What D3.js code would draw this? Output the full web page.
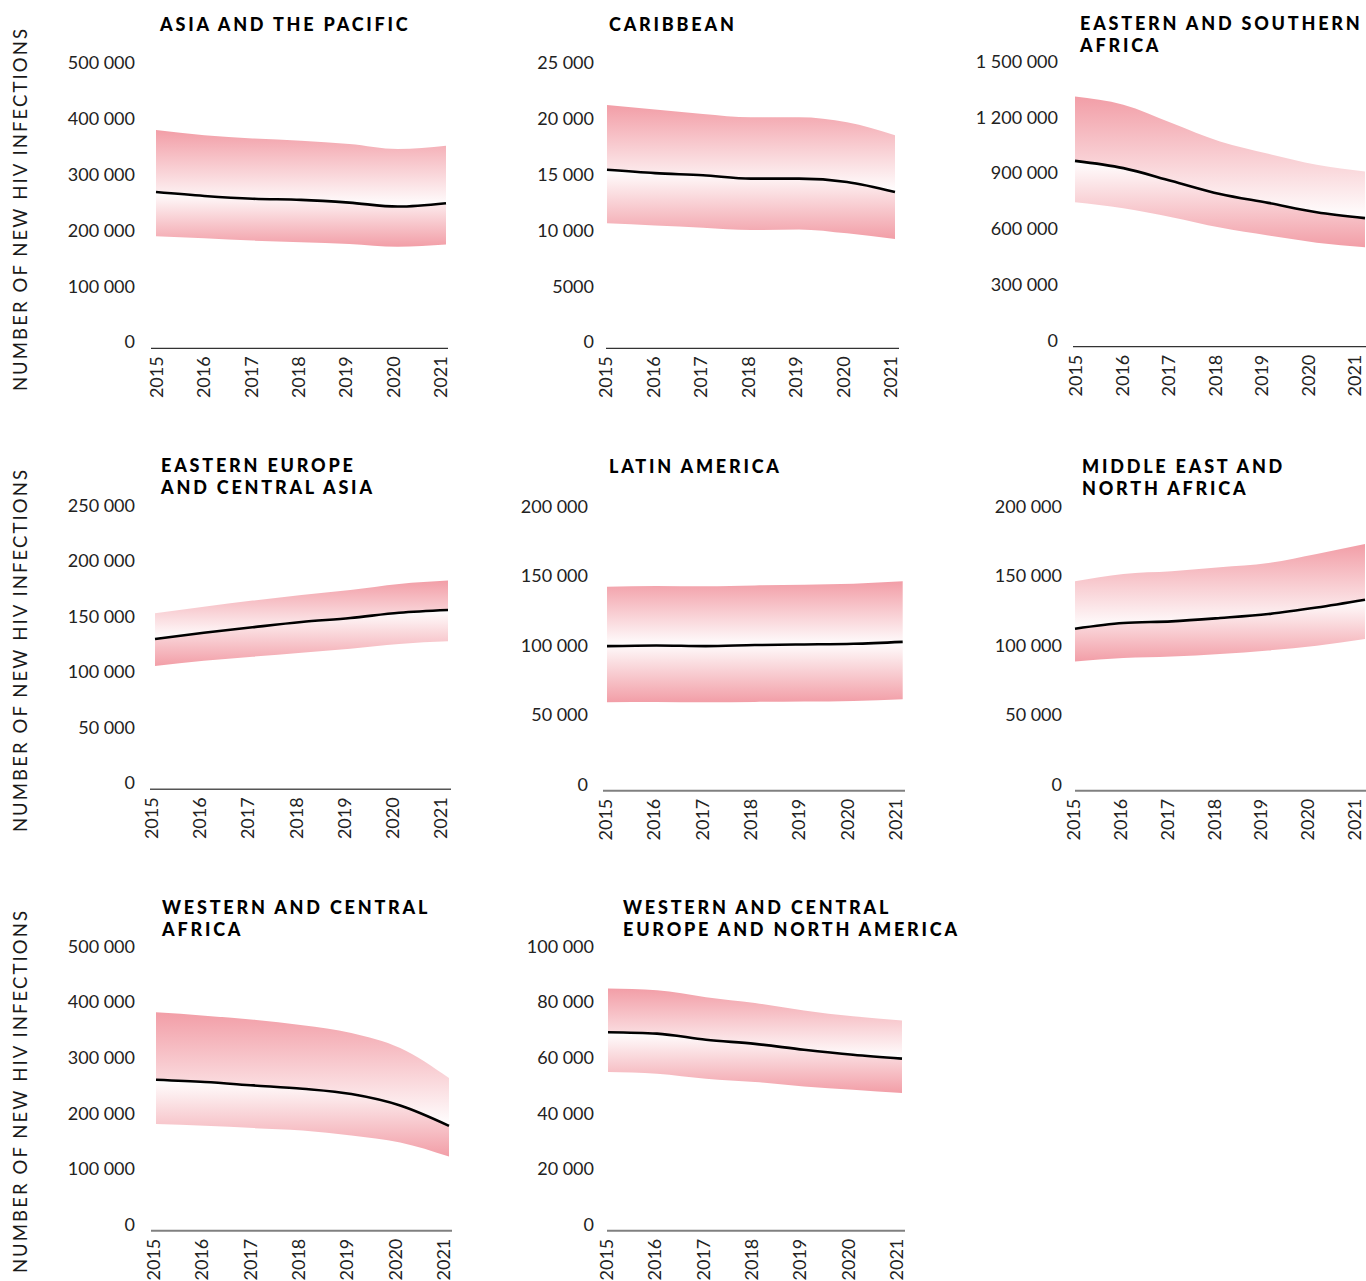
<!DOCTYPE html>
<html><head><meta charset="utf-8">
<script src="https://cdn.jsdelivr.net/npm/d3@7"></script>
<style>body{margin:0;background:#fff;overflow:hidden} svg{display:block}</style>
</head><body><svg id="c" width="1366" height="1281"></svg>
<script>
// ---------- DATA ----------
const years = [2015, 2016, 2017, 2018, 2019, 2020, 2021];
const yAxisTitle = "NUMBER OF NEW HIV INFECTIONS";

const regionTitles = [
  ["ASIA AND THE PACIFIC"],
  ["CARIBBEAN"],
  ["EASTERN AND SOUTHERN", "AFRICA"],
  ["EASTERN EUROPE", "AND CENTRAL ASIA"],
  ["LATIN AMERICA"],
  ["MIDDLE EAST AND", "NORTH AFRICA"],
  ["WESTERN AND CENTRAL", "AFRICA"],
  ["WESTERN AND CENTRAL", "EUROPE AND NORTH AMERICA"]
];

const asiaUpper  = [391000, 382000, 376000, 372000, 366000, 357000, 363000];
const asiaMedian = [280000, 273000, 268000, 266000, 261000, 254000, 260000];
const asiaLower  = [201000, 197000, 193000, 190000, 187000, 182000, 186000];
const asiaTicks  = [0, 100000, 200000, 300000, 400000, 500000];

const caribUpper  = [21800, 21400, 21000, 20700, 20700, 20250, 19100];
const caribMedian = [16000, 15700, 15500, 15200, 15200, 14900, 14000];
const caribLower  = [11200, 11000, 10800, 10600, 10650, 10300, 9800];
const caribTicks  = [0, 5000, 10000, 15000, 20000, 25000];

const esaUpper  = [1346000, 1302000, 1204000, 1104000, 1038000, 979000, 943000];
const esaMedian = [1000000, 961000, 892000, 822000, 774000, 724000, 692000];
const esaLower  = [778000, 745000, 697000, 641000, 598000, 560000, 535000];
const esaTicks  = [0, 300000, 600000, 900000, 1200000, 1500000];

const eecaUpper  = [158600, 164500, 170000, 175000, 179500, 185000, 188000];
const eecaMedian = [135400, 141000, 146000, 150700, 154300, 159000, 161500];
const eecaLower  = [111000, 115900, 119500, 123000, 126700, 131000, 133300];
const eecaTicks  = [0, 50000, 100000, 150000, 200000, 250000];

const latamUpper  = [146800, 147300, 147000, 147700, 148200, 148900, 150600];
const latamMedian = [104000, 104500, 104000, 104800, 105200, 105700, 107100];
const latamLower  = [63700, 63900, 63700, 63900, 64100, 64600, 65800];
const latamTicks  = [0, 50000, 100000, 150000, 200000];

const menaUpper  = [150600, 155900, 157800, 160700, 163800, 170300, 177500];
const menaMedian = [116500, 120600, 121800, 124200, 127100, 131800, 137400];
const menaLower  = [92900, 95400, 96500, 98300, 100900, 104300, 109100];
const menaTicks  = [0, 50000, 100000, 150000, 200000];

const wcaUpper  = [392800, 386800, 379600, 369400, 355700, 328600, 274600];
const wcaMedian = [271500, 267400, 261300, 255300, 245800, 225200, 188600];
const wcaLower  = [191700, 188600, 184500, 180200, 171200, 158600, 133300];
const wcaTicks  = [0, 100000, 200000, 300000, 400000, 500000];

const wcenaUpper  = [87100, 86500, 84000, 81900, 79200, 77100, 75600];
const wcenaMedian = [71400, 70900, 68700, 67200, 65100, 63300, 61900];
const wcenaLower  = [57100, 56500, 54700, 53500, 51900, 50700, 49500];
const wcenaTicks  = [0, 20000, 40000, 60000, 80000, 100000];

const seriesUpper  = [asiaUpper, caribUpper, esaUpper, eecaUpper, latamUpper, menaUpper, wcaUpper, wcenaUpper];
const seriesMedian = [asiaMedian, caribMedian, esaMedian, eecaMedian, latamMedian, menaMedian, wcaMedian, wcenaMedian];
const seriesLower  = [asiaLower, caribLower, esaLower, eecaLower, latamLower, menaLower, wcaLower, wcenaLower];
const seriesTicks  = [asiaTicks, caribTicks, esaTicks, eecaTicks, latamTicks, menaTicks, wcaTicks, wcenaTicks];

// ---------- LAYOUT ----------
const layout = [
  {x:[156,446],  ax:[151,448],  zero:348.3, top:69.3,  lab:135,  labX:[163,447],  tx:160,  ty:30.7,  axC:"#333", axW:1.2},
  {x:[607,895],  ax:[606,899],  zero:348.3, top:69.3,  lab:594,  labX:[612,897],  tx:609,  ty:30.7,  axC:"#333", axW:1.2},
  {x:[1075,1365],ax:[1073,1366],zero:346.7, top:68.0,  lab:1058, labX:[1082,1361], tx:1080, ty:30.0,  axC:"#333", axW:1.2},
  {x:[155,448],  ax:[150,451],  zero:789.3, top:511.8, lab:135,  labX:[158,447],  tx:161,  ty:472.3, axC:"#555", axW:1.6},
  {x:[607,902.7],ax:[603,905],  zero:790.7, top:512.7, lab:588,  labX:[612,902],  tx:609,  ty:473.3, axC:"#808080", axW:2},
  {x:[1075,1365],ax:[1075,1366],zero:790.7, top:512.7, lab:1062, labX:[1080,1361], tx:1082, ty:473.3, axC:"#808080", axW:2},
  {x:[156,449],  ax:[151,452],  zero:1230.7,top:952.7, lab:135,  labX:[160,450],  tx:162,  ty:914.3, axC:"#808080", axW:2},
  {x:[608,902],  ax:[607,905],  zero:1230.7,top:952.7, lab:594,  labX:[613,903],  tx:623,  ty:914.3, axC:"#808080", axW:2}
];
const rowTitleY = [209, 650, 1091];

const fmt = v => v >= 10000 ? d3.format(",")(v).replace(/,/g, " ") : String(v);

const svg = d3.select("#c");
const defs = svg.append("defs");
const PINK = "#f29ea7";
const gUp = defs.append("linearGradient").attr("id","gUp").attr("x1",0).attr("y1",0).attr("x2",0).attr("y2",1);
gUp.append("stop").attr("offset","0%").attr("stop-color",PINK);
gUp.append("stop").attr("offset","100%").attr("stop-color","#ffffff");
const gDn = defs.append("linearGradient").attr("id","gDn").attr("x1",0).attr("y1",0).attr("x2",0).attr("y2",1);
gDn.append("stop").attr("offset","0%").attr("stop-color","#ffffff");
gDn.append("stop").attr("offset","100%").attr("stop-color",PINK);

const FONT = "Lato, 'Open Sans', sans-serif";

// row y-axis titles
rowTitleY.forEach(cy => {
  svg.append("text")
    .attr("transform", `translate(26.5,${cy}) rotate(-90)`)
    .attr("text-anchor","middle")
    .attr("font-family", FONT).attr("font-size", 18.5)
    .attr("letter-spacing", 2.1).attr("fill","#1a1a1a")
    .text(yAxisTitle);
});

layout.forEach((L, i) => {
  const ticks = seriesTicks[i];
  const maxT = d3.max(ticks);
  const x = d3.scalePoint().domain(years).range(L.x);
  const xl = d3.scalePoint().domain(years).range(L.labX);
  const y = d3.scaleLinear().domain([0, maxT]).range([L.zero, L.top]);
  const g = svg.append("g");

  const data = years.map((yr, k) => ({yr, up: seriesUpper[i][k], md: seriesMedian[i][k], lo: seriesLower[i][k]}));
  const curve = d3.curveMonotoneX;

  g.append("path").datum(data)
    .attr("d", d3.area().x(d => x(d.yr)).y0(d => y(d.md)).y1(d => y(d.up)).curve(curve))
    .attr("fill","url(#gUp)");
  g.append("path").datum(data)
    .attr("d", d3.area().x(d => x(d.yr)).y0(d => y(d.lo)).y1(d => y(d.md)).curve(curve))
    .attr("fill","url(#gDn)");
  g.append("path").datum(data)
    .attr("d", d3.line().x(d => x(d.yr)).y(d => y(d.md)).curve(curve))
    .attr("fill","none").attr("stroke","#000").attr("stroke-width",2.6);

  // x axis line
  g.append("line").attr("x1",L.ax[0]).attr("x2",L.ax[1]).attr("y1",L.zero).attr("y2",L.zero)
    .attr("stroke",L.axC).attr("stroke-width",L.axW);

  // y tick labels
  g.selectAll(".yt").data(ticks).join("text")
    .attr("x", L.lab).attr("y", d => y(d))
    .attr("text-anchor","end")
    .attr("font-family", FONT).attr("font-size", 18).attr("fill","#222")
    .text(fmt);

  // year labels
  g.selectAll(".xt").data(years).join("text")
    .attr("transform", d => `translate(${xl(d)},${L.zero + 8}) rotate(-90)`)
    .attr("text-anchor","end")
    .attr("font-family", FONT).attr("font-size", 18).attr("fill","#222")
    .text(d => d);

  // title
  regionTitles[i].forEach((line, j) => {
    g.append("text").attr("x", L.tx).attr("y", L.ty + j * 22)
      .attr("font-family", FONT).attr("font-weight", 900).attr("font-size", 18)
      .attr("letter-spacing", 2.8).attr("fill","#000")
      .text(line);
  });
});
</script>
</body></html>
